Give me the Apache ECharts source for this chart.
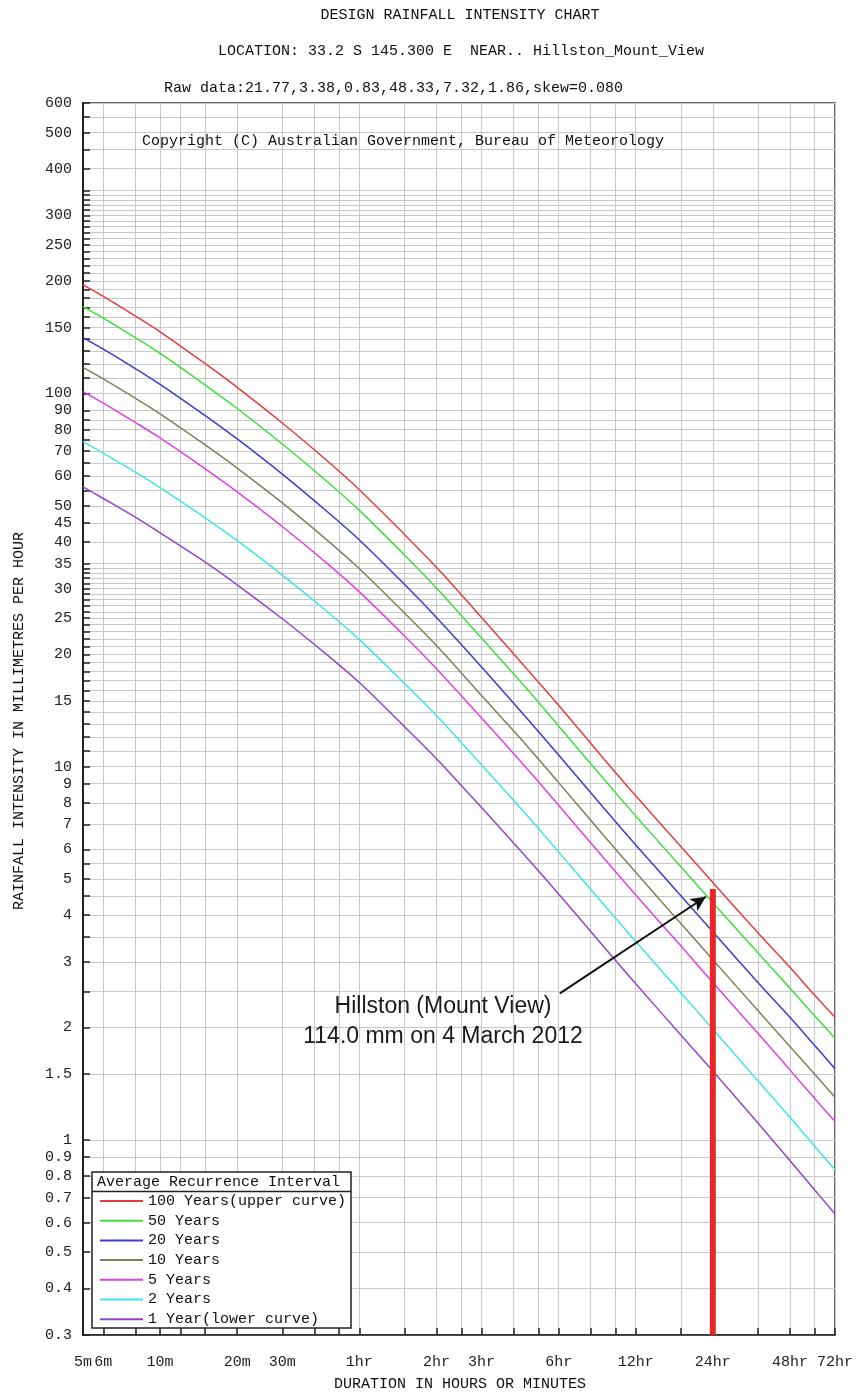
<!DOCTYPE html>
<html><head><meta charset="utf-8">
<script src="https://cdn.jsdelivr.net/npm/echarts@6/dist/echarts.min.js"></script>
<style>html,body{margin:0;padding:0;background:#fff}#c{width:856px;height:1396px}</style>
</head><body><div id="c"></div>
<script>
// Durations in minutes
const durations = [5, 6, 8, 10, 15, 20, 30, 45, 60, 90, 120, 180, 270, 360, 540, 720, 1080, 1440, 2160, 2880, 3600, 4320];
// Intensities (mm/h) per Average Recurrence Interval
const ari100 = [195.3, 181.9, 161.2, 146.2, 120.1, 103.8, 83.3, 65.9, 55.2, 41.9, 34.2, 25.1, 18.3, 14.6, 10.5, 8.35, 6.11, 4.89, 3.59, 2.90, 2.44, 2.13];
const ari50  = [170.9, 159.2, 141.1, 128.0, 105.3, 91.1, 73.2, 58.0, 48.6, 36.9, 30.1, 22.1, 16.2, 12.85, 9.27, 7.38, 5.39, 4.32, 3.17, 2.55, 2.15, 1.87];
const ari20  = [141.1, 131.4, 116.6, 105.8, 87.2, 75.5, 60.8, 48.2, 40.5, 30.8, 25.1, 18.5, 13.5, 10.75, 7.75, 6.17, 4.51, 3.61, 2.64, 2.13, 1.79, 1.55];
const ari10  = [117.5, 109.4, 97.1, 88.2, 72.8, 63.1, 50.9, 40.4, 33.9, 25.8, 21.1, 15.5, 11.4, 9.06, 6.54, 5.21, 3.80, 3.04, 2.22, 1.78, 1.50, 1.30];
const ari5   = [101.1, 94.2, 83.6, 76.0, 62.8, 54.5, 44.0, 35.0, 29.4, 22.4, 18.3, 13.5, 9.90, 7.88, 5.69, 4.53, 3.31, 2.64, 1.93, 1.54, 1.29, 1.12];
const ari2   = [74.3, 69.2, 61.5, 55.9, 46.4, 40.3, 32.6, 26.0, 21.9, 16.7, 13.7, 10.1, 7.42, 5.91, 4.27, 3.40, 2.48, 1.98, 1.44, 1.15, 0.961, 0.831];
const ari1   = [56.2, 52.3, 46.6, 42.3, 35.3, 30.7, 24.9, 19.9, 16.8, 12.8, 10.5, 7.77, 5.71, 4.56, 3.29, 2.62, 1.91, 1.53, 1.11, 0.880, 0.734, 0.633];

const seriesNames = ['100 Years(upper curve)', '50 Years', '20 Years', '10 Years', '5 Years', '2 Years', '1 Year(lower curve)'];
const seriesColors = ['#e83c3c', '#3cdf3c', '#3c3cd0', '#7f7f5c', '#e040e0', '#40e4e4', '#9444cc'];

// Event: Hillston (Mount View) 114.0 mm in 24 hours
const eventDuration = [1440, 1440];
const eventIntensity = [0.3, 4.7];
const arrowFrom = [364, 2.47];
const arrowTo = [1352, 4.48];

// Axis ticks / labels
const xTickValues = [5, 6, 8, 10, 12, 15, 20, 30, 40, 50, 60, 90, 120, 150, 180, 240, 300, 360, 480, 600, 720, 1080, 1440, 2160, 2880, 3600, 4320];
const xLabelValues = [5, 6, 10, 20, 30, 60, 120, 180, 360, 720, 1440, 2880, 4320];
const xLabelTexts = ['5m', '6m', '10m', '20m', '30m', '1hr', '2hr', '3hr', '6hr', '12hr', '24hr', '48hr', '72hr'];
const yTickValues = [0.3, 0.4, 0.5, 0.6, 0.7, 0.8, 0.9, 1, 1.5, 2, 2.5, 3, 3.5, 4, 4.5, 5, 5.5, 6, 7, 8, 9,
  10, 11, 12, 13, 14, 15, 16, 17, 18, 19, 20, 21, 22, 23, 24, 25, 26, 27, 28, 29, 30, 31, 32, 33, 34, 35,
  40, 45, 50, 55, 60, 65, 70, 75, 80, 85, 90, 100, 110, 120, 130, 140, 150, 160, 170, 180, 190,
  200, 210, 220, 230, 240, 250, 260, 270, 280, 290, 300, 310, 320, 330, 340, 350, 400, 450, 500, 550, 600];
const yLabelValues = [0.3, 0.4, 0.5, 0.6, 0.7, 0.8, 0.9, 1, 1.5, 2, 3, 4, 5, 6, 7, 8, 9, 10, 15, 20, 25, 30, 35,
  40, 45, 50, 60, 70, 80, 90, 100, 150, 200, 250, 300, 400, 500, 600];

const MONO = "'Liberation Mono','DejaVu Sans Mono',monospace";
const chart = echarts.init(document.getElementById('c'), null, {renderer: 'canvas'});

const curves = [ari100, ari50, ari20, ari10, ari5, ari2, ari1];
const series = curves.map((vals, i) => ({
  name: seriesNames[i],
  type: 'line',
  data: durations.map((d, j) => [d, vals[j]]),
  smooth: 0.3,
  showSymbol: false,
  symbol: 'none',
  lineStyle: {color: seriesColors[i], width: 1.5},
  itemStyle: {color: seriesColors[i]},
  z: 3,
  silent: true
}));
series.push({
  name: 'event',
  type: 'line',
  data: eventDuration.map((d, j) => [d, eventIntensity[j]]),
  showSymbol: false,
  symbol: 'none',
  lineStyle: {color: '#e8262a', width: 6, cap: 'butt'},
  z: 5,
  silent: true,
  markLine: {
    silent: true,
    symbol: ['none', 'arrow'],
    symbolSize: [11, 15],
    label: {show: false},
    lineStyle: {color: '#111', width: 2, type: 'solid'},
    data: [[{coord: arrowFrom}, {coord: arrowTo}]]
  }
});

function fmtX(v) {
  const i = xLabelValues.findIndex(x => Math.abs(x - v) / x < 1e-6);
  return i >= 0 ? xLabelTexts[i] : '';
}
function fmtY(v) {
  return String(Math.round(v * 1000) / 1000);
}

chart.setOption({
  animation: false,
  backgroundColor: '#fff',
  grid: {left: 83, right: 18, top: 103, bottom: 61, show: true, borderColor: '#333', borderWidth: 1.5, containLabel: false},
  xAxis: {
    type: 'log', logBase: 10, min: 5, max: 4320,
    axisLine: {show: true, lineStyle: {color: '#222', width: 1.5}},
    axisTick: {show: true, inside: true, length: 7, customValues: xTickValues, lineStyle: {color: '#222', width: 1.5}},
    axisLabel: {show: true, customValues: xLabelValues, formatter: fmtX, margin: 20, fontFamily: MONO, fontSize: 15, color: '#222'},
    splitLine: {show: true, lineStyle: {color: '#c8c8c8', width: 1}},
    minorTick: {show: false}, minorSplitLine: {show: false}
  },
  yAxis: {
    type: 'log', logBase: 10, min: 0.3, max: 600,
    axisLine: {show: true, lineStyle: {color: '#222', width: 2}},
    axisTick: {show: true, inside: true, length: 7, customValues: yTickValues, lineStyle: {color: '#222', width: 1.5}},
    axisLabel: {show: true, customValues: yLabelValues, formatter: fmtY, margin: 11, fontFamily: MONO, fontSize: 15, color: '#222'},
    splitLine: {show: true, lineStyle: {color: '#c8c8c8', width: 1}},
    minorTick: {show: false}, minorSplitLine: {show: false}
  },
  legend: {
    data: seriesNames,
    orient: 'vertical',
    left: 100, top: 1193,
    padding: 0,
    itemWidth: 43, itemHeight: 2,
    itemGap: 3.7,
    icon: 'rect',
    selectedMode: false,
    z: 100,
    textStyle: {fontFamily: MONO, fontSize: 15, color: '#111', lineHeight: 16}
  },
  graphic: [
    {type: 'rect', z: 50, shape: {x: 92, y: 1172, width: 259, height: 156}, style: {fill: '#fff', stroke: '#222', lineWidth: 1.5}},
    {type: 'line', z: 51, shape: {x1: 92, y1: 1191.5, x2: 351, y2: 1191.5}, style: {stroke: '#222', lineWidth: 1.5}},
    {type: 'text', z: 52, x: 97, y: 1182, style: {text: 'Average Recurrence Interval', font: "15px " + MONO, fill: '#111', verticalAlign: 'middle'}},
    {type: 'text', z: 52, x: 460, y: 15, style: {text: 'DESIGN RAINFALL INTENSITY CHART', font: "15px " + MONO, fill: '#111', align: 'center', verticalAlign: 'middle'}},
    {type: 'text', z: 52, x: 461, y: 51, style: {text: 'LOCATION: 33.2 S 145.300 E  NEAR.. Hillston_Mount_View', font: "15px " + MONO, fill: '#111', align: 'center', verticalAlign: 'middle'}},
    {type: 'text', z: 52, x: 164, y: 88, style: {text: 'Raw data:21.77,3.38,0.83,48.33,7.32,1.86,skew=0.080', font: "15px " + MONO, fill: '#111', verticalAlign: 'middle'}},
    {type: 'text', z: 52, x: 142, y: 141, style: {text: 'Copyright (C) Australian Government, Bureau of Meteorology', font: "15px " + MONO, fill: '#111', verticalAlign: 'middle'}},
    {type: 'text', z: 52, x: 460, y: 1384, style: {text: 'DURATION IN HOURS OR MINUTES', font: "15px " + MONO, fill: '#111', align: 'center', verticalAlign: 'middle'}},
    {type: 'text', z: 52, x: 19, y: 721, rotation: Math.PI / 2, style: {text: 'RAINFALL INTENSITY IN MILLIMETRES PER HOUR', font: "15px " + MONO, fill: '#111', align: 'center', verticalAlign: 'middle'}},
    {type: 'text', z: 52, x: 443, y: 1007, style: {text: 'Hillston (Mount View)', font: "23px 'Liberation Sans', Arial, sans-serif", fill: '#1a1a1a', align: 'center', verticalAlign: 'middle'}},
    {type: 'text', z: 52, x: 443, y: 1037, style: {text: '114.0 mm on 4 March 2012', font: "23px 'Liberation Sans', Arial, sans-serif", fill: '#1a1a1a', align: 'center', verticalAlign: 'middle'}}
  ],
  series: series
});
</script>
</body></html>
